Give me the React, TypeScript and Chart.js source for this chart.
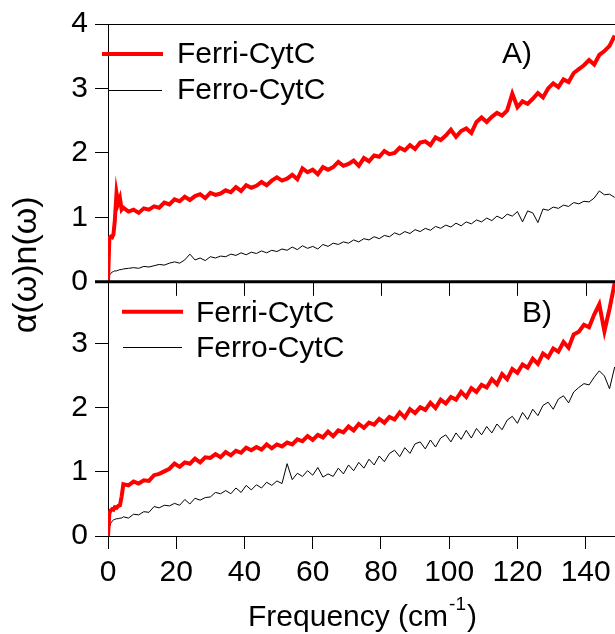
import { useEffect, useRef } from 'react';
import { Chart, registerables } from 'chart.js';

Chart.register(...registerables);

// Frequency grid (cm^-1)
const freq = [
  0, 0.4, 0.8, 1.2, 1.6, 2, 2.5, 3, 3.5, 4,
  4.5, 6, 7.5, 9, 10.5, 12, 13.5, 15, 16.5, 18,
  19.5, 21, 22.5, 24, 25.5, 27, 28.5, 30, 31.5, 33,
  34.5, 36, 37.5, 39, 40.5, 42, 43.5, 45, 46.5, 48,
  49.5, 51, 52.5, 54, 55.5, 57, 58.5, 60, 61.5, 63,
  64.5, 66, 67.5, 69, 70.5, 72, 73.5, 75, 76.5, 78,
  79.5, 81, 82.5, 84, 85.5, 87, 88.5, 90, 91.5, 93,
  94.5, 96, 97.5, 99, 100.5, 102, 103.5, 105, 106.5, 108,
  109.5, 111, 112.5, 114, 115.5, 117, 118.5, 120, 121.5, 123,
  124.5, 126, 127.5, 129, 130.5, 132, 133.5, 135, 136.5, 138,
  139.5, 141, 142.5, 144, 145.5, 147, 148.5,
];

// Panel A
const ferriA = [
  0, 0.68, 0.7, 0.69, 0.74, 0.95, 1.38, 1.22, 1.3, 1.12,
  1.15, 1.09, 1.12, 1.07, 1.14, 1.12, 1.17, 1.15, 1.23, 1.2,
  1.28, 1.25, 1.32, 1.27, 1.33, 1.36, 1.3, 1.38, 1.35, 1.37,
  1.42, 1.39, 1.47, 1.41, 1.5, 1.46, 1.49, 1.55, 1.5, 1.57,
  1.62, 1.57, 1.6, 1.66, 1.59, 1.76, 1.7, 1.74, 1.67, 1.78,
  1.74, 1.78, 1.86, 1.8, 1.83, 1.88, 1.8, 1.92, 1.87, 1.96,
  1.94, 2.03, 1.98, 2.0, 2.08, 2.04, 2.12, 2.06, 2.16, 2.18,
  2.12, 2.24, 2.2, 2.27, 2.36, 2.25, 2.34, 2.38, 2.31, 2.48,
  2.55, 2.48, 2.56, 2.62, 2.58, 2.66, 2.92, 2.71, 2.8, 2.76,
  2.84, 2.93, 2.86, 3.0, 3.08, 3.02, 3.14, 3.1, 3.24, 3.3,
  3.36, 3.44, 3.37, 3.52, 3.58, 3.66, 3.82,
];
const ferroA = [
  0, 0.1, 0.13, 0.15, 0.16, 0.17, 0.17, 0.18, 0.19, 0.19,
  0.2, 0.21, 0.22, 0.21, 0.24, 0.23, 0.25, 0.27, 0.26, 0.29,
  0.31, 0.29, 0.34, 0.43, 0.34, 0.37, 0.33, 0.39, 0.37, 0.4,
  0.39, 0.43, 0.41, 0.45, 0.42, 0.46, 0.44, 0.48, 0.45, 0.49,
  0.47, 0.51, 0.49, 0.54, 0.5, 0.56, 0.52, 0.55, 0.51, 0.58,
  0.55, 0.6, 0.58, 0.62, 0.6, 0.65, 0.62, 0.67, 0.65, 0.7,
  0.67, 0.72, 0.7, 0.76, 0.73, 0.78, 0.75, 0.81, 0.78, 0.83,
  0.8, 0.86, 0.83, 0.88, 0.85, 0.91, 0.87, 0.93, 0.9, 0.96,
  0.93, 0.99, 0.95, 1.02, 0.98, 1.05, 1.02, 1.09, 0.93, 1.1,
  1.07, 0.92, 1.13, 1.11, 1.16, 1.14, 1.19, 1.17, 1.23, 1.21,
  1.25, 1.24, 1.3, 1.41, 1.35, 1.36, 1.31,
];

// Panel B
const ferriB = [
  0, 0.36, 0.4, 0.42, 0.41, 0.45, 0.44, 0.47, 0.48, 0.62,
  0.81, 0.79, 0.85, 0.82, 0.87, 0.86, 0.95, 0.97, 1.01, 1.05,
  1.13, 1.08, 1.15, 1.13, 1.21, 1.15, 1.23, 1.22, 1.28, 1.23,
  1.31, 1.26, 1.33, 1.3, 1.38, 1.34, 1.39, 1.35, 1.43, 1.37,
  1.43, 1.4, 1.46, 1.43, 1.51, 1.48, 1.56, 1.5, 1.58, 1.54,
  1.63, 1.56, 1.65, 1.62, 1.71, 1.65, 1.75, 1.69, 1.77, 1.74,
  1.83, 1.77, 1.86, 1.82, 1.93, 1.85, 1.98, 1.92, 2.01, 1.97,
  2.08, 2.0, 2.13, 2.07, 2.17, 2.13, 2.25, 2.17, 2.31, 2.25,
  2.36, 2.32, 2.45, 2.37, 2.53, 2.45, 2.61, 2.55, 2.68, 2.63,
  2.77, 2.69, 2.85, 2.79, 2.93, 2.88, 3.03, 2.94, 3.15, 3.19,
  3.3, 3.26, 3.46, 3.62, 3.2, 3.55, 3.95,
];
const ferroB = [
  0, 0.14, 0.2, 0.23, 0.25, 0.26, 0.27, 0.27, 0.28, 0.28,
  0.3, 0.28, 0.34, 0.33, 0.38, 0.37, 0.46, 0.44, 0.48, 0.47,
  0.51, 0.48, 0.57, 0.5, 0.59, 0.56, 0.6, 0.61, 0.68, 0.66,
  0.71, 0.66, 0.75, 0.68, 0.79, 0.72, 0.8, 0.75, 0.84, 0.79,
  0.86, 0.82, 1.13, 0.88, 0.98, 0.93, 1.02, 0.95, 1.07, 0.92,
  0.97, 0.93, 1.06, 0.97, 1.11, 1.02, 1.15, 1.06, 1.2, 1.11,
  1.25, 1.16, 1.29, 1.34, 1.24, 1.38, 1.29, 1.44, 1.47, 1.36,
  1.5, 1.39, 1.53, 1.58, 1.47, 1.61, 1.51, 1.65, 1.53, 1.68,
  1.58, 1.71, 1.61, 1.75, 1.66, 1.81, 1.87, 1.76, 1.93, 1.82,
  1.98, 1.88, 2.04, 2.09, 1.98, 2.14, 2.19, 2.08, 2.25, 2.32,
  2.38, 2.36, 2.48, 2.58, 2.5, 2.3, 2.64,
];

const xTicks = [0, 20, 40, 60, 80, 100, 120, 140];
const yTicksA = [0, 1, 2, 3, 4];
const yTicksB = [0, 1, 2, 3];
const seriesNames = ['Ferri-CytC', 'Ferro-CytC'];
const panelLabels = ['A)', 'B)'];
const xTitleMain = 'Frequency (cm';
const xTitleSup = '-1';
const xTitleEnd = ')';
const yTitle = 'α(ω)n(ω)';

const X_MIN = 0;
const X_MAX = 148.6;
const YA_MAX = 4;
const YB_MAX = 3.97;

const FONT = '"Liberation Sans", Arial, Helvetica, sans-serif';
const RED = '#ff0000';
const BLACK = '#000000';

const toPoints = (ys: number[]) => freq.map((x, i) => ({ x, y: ys[i] }));

const decorPlugin = {
  id: 'decor',
  afterDraw(chart: any) {
    const { ctx, chartArea: ca, scales } = chart;
    const xs = scales.x;
    const yA = scales.yA;
    const yB = scales.yB;
    ctx.save();
    ctx.strokeStyle = BLACK;
    ctx.fillStyle = BLACK;

    // top frame line of panel A
    ctx.lineWidth = 1;
    ctx.beginPath();
    ctx.moveTo(ca.left, Math.round(yA.top) + 0.5);
    ctx.lineTo(ca.right, Math.round(yA.top) + 0.5);
    ctx.stroke();

    // thick separator between panels
    const sepY = yA.getPixelForValue(0);
    ctx.lineWidth = 3;
    ctx.beginPath();
    ctx.moveTo(ca.left - 13, sepY);
    ctx.lineTo(ca.right, sepY);
    ctx.stroke();

    // x ticks under separator
    ctx.lineWidth = 1;
    for (const v of xTicks) {
      const px = Math.round(xs.getPixelForValue(v)) + 0.5;
      ctx.beginPath();
      ctx.moveTo(px, sepY);
      ctx.lineTo(px, sepY + 14);
      ctx.stroke();
    }

    const ds = chart.data.datasets;
    const drawLegend = (
      top: number,
      redFrom: number, redTo: number, redDy: number,
      blkFrom: number, blkTo: number, blkDy: number,
      textX: number, base1: number, base2: number,
      red: any, blk: any,
    ) => {
      ctx.lineCap = 'butt';
      ctx.strokeStyle = red.borderColor;
      ctx.lineWidth = red.borderWidth;
      ctx.beginPath();
      ctx.moveTo(ca.left + redFrom, top + redDy);
      ctx.lineTo(ca.left + redTo, top + redDy);
      ctx.stroke();
      ctx.strokeStyle = blk.borderColor;
      ctx.lineWidth = blk.borderWidth;
      ctx.beginPath();
      ctx.moveTo(ca.left + blkFrom, Math.round(top + blkDy) + 0.5);
      ctx.lineTo(ca.left + blkTo, Math.round(top + blkDy) + 0.5);
      ctx.stroke();
      ctx.fillStyle = BLACK;
      ctx.font = `30px ${FONT}`;
      ctx.textAlign = 'left';
      ctx.textBaseline = 'alphabetic';
      ctx.fillText(seriesNames[0], ca.left + textX, top + base1);
      ctx.fillText(seriesNames[1], ca.left + textX, top + base2);
    };

    drawLegend(yA.top, -6, 55, 30, 1, 54, 66, 69, 39, 75, ds[0], ds[1]);
    drawLegend(yB.top, 14, 75, 30, 15, 74, 65.5, 88, 40, 75, ds[2], ds[3]);

    // panel labels
    ctx.font = `30px ${FONT}`;
    ctx.textAlign = 'left';
    ctx.textBaseline = 'alphabetic';
    ctx.fillText(panelLabels[0], ca.left + 394, yA.top + 39);
    ctx.fillText(panelLabels[1], ca.left + 414, yB.top + 40);

    // x title with superscript
    ctx.font = `30px ${FONT}`;
    const wMain = ctx.measureText(xTitleMain).width;
    const wEnd = ctx.measureText(xTitleEnd).width;
    ctx.font = `19px ${FONT}`;
    const wSup = ctx.measureText(xTitleSup).width;
    const total = wMain + wSup + 2 + wEnd;
    const cx = (ca.left + ca.right) / 2 + 1;
    let tx = cx - total / 2;
    const base = 626;
    ctx.font = `30px ${FONT}`;
    ctx.fillText(xTitleMain, tx, base);
    tx += wMain + 1;
    ctx.font = `19px ${FONT}`;
    ctx.fillText(xTitleSup, tx, base - 16);
    tx += wSup + 1;
    ctx.font = `30px ${FONT}`;
    ctx.fillText(xTitleEnd, tx, base);

    // y title
    ctx.save();
    ctx.translate(27, sepY - 17);
    ctx.rotate(-Math.PI / 2);
    ctx.font = `34px ${FONT}`;
    ctx.textAlign = 'center';
    ctx.textBaseline = 'middle';
    ctx.fillText(yTitle, 0, 0);
    ctx.restore();

    ctx.restore();
  },
};

export default function App() {
  const canvasRef = useRef<HTMLCanvasElement | null>(null);

  useEffect(() => {
    const canvas = canvasRef.current;
    if (!canvas) return;

    const tickFont = { family: FONT, size: 30 };
    const yCommon = (ticks: number[], max: number, weight: number) => ({
      type: 'linear',
      position: 'left',
      stack: 'panels',
      stackWeight: weight,
      min: 0,
      max,
      offset: false,
      grid: {
        display: true,
        drawOnChartArea: false,
        drawTicks: true,
        tickLength: 13,
        color: BLACK,
        lineWidth: 1,
      },
      border: { display: true, color: BLACK, width: 1 },
      ticks: {
        color: BLACK,
        font: tickFont,
        padding: 7,
        autoSkip: false,
        includeBounds: false,
      },
      afterBuildTicks: (scale: any) => {
        scale.ticks = ticks.map((v) => ({ value: v }));
      },
      afterFit: (scale: any) => {
        scale.width = 108;
        scale.paddingTop = 0;
        scale.paddingBottom = 0;
      },
    });

    const chart = new Chart(canvas, {
      type: 'line',
      data: {
        datasets: [
          {
            label: seriesNames[0] + ' A',
            data: toPoints(ferriA),
            borderColor: RED,
            borderWidth: 4,
            yAxisID: 'yA',
            pointRadius: 0,
            tension: 0,
          },
          {
            label: seriesNames[1] + ' A',
            data: toPoints(ferroA),
            borderColor: BLACK,
            borderWidth: 1,
            yAxisID: 'yA',
            pointRadius: 0,
            tension: 0,
          },
          {
            label: seriesNames[0] + ' B',
            data: toPoints(ferriB),
            borderColor: RED,
            borderWidth: 4,
            yAxisID: 'yB',
            pointRadius: 0,
            tension: 0,
          },
          {
            label: seriesNames[1] + ' B',
            data: toPoints(ferroB),
            borderColor: BLACK,
            borderWidth: 1,
            yAxisID: 'yB',
            pointRadius: 0,
            tension: 0,
          },
        ],
      },
      options: {
        responsive: false,
        animation: false,
        events: [],
        layout: { padding: { top: 24, left: 0, right: 0, bottom: 0 } },
        plugins: {
          legend: { display: false },
          tooltip: { enabled: false },
          title: { display: false },
        },
        scales: {
          x: {
            type: 'linear',
            position: 'bottom',
            min: X_MIN,
            max: X_MAX,
            grid: {
              display: true,
              drawOnChartArea: false,
              drawTicks: true,
              tickLength: 13,
              color: BLACK,
              lineWidth: 1,
            },
            border: { display: true, color: BLACK, width: 1 },
            ticks: {
              color: BLACK,
              font: tickFont,
              padding: 6,
              maxRotation: 0,
              autoSkip: false,
              includeBounds: false,
            },
            afterBuildTicks: (scale: any) => {
              scale.ticks = xTicks.map((v) => ({ value: v }));
            },
            afterFit: (scale: any) => {
              scale.height = 98;
              scale.paddingLeft = 0;
              scale.paddingRight = 0;
            },
          },
          yB: yCommon(yTicksB, YB_MAX, 254) as any,
          yA: yCommon(yTicksA, YA_MAX, 257.7) as any,
        },
      } as any,
      plugins: [decorPlugin],
    });

    return () => chart.destroy();
  }, []);

  return (
    <div style={{ position: 'absolute', left: 0, top: 0, width: 615, height: 634, background: '#fff' }}>
      <canvas ref={canvasRef} width={615} height={634} style={{ display: 'block' }} />
    </div>
  );
}
